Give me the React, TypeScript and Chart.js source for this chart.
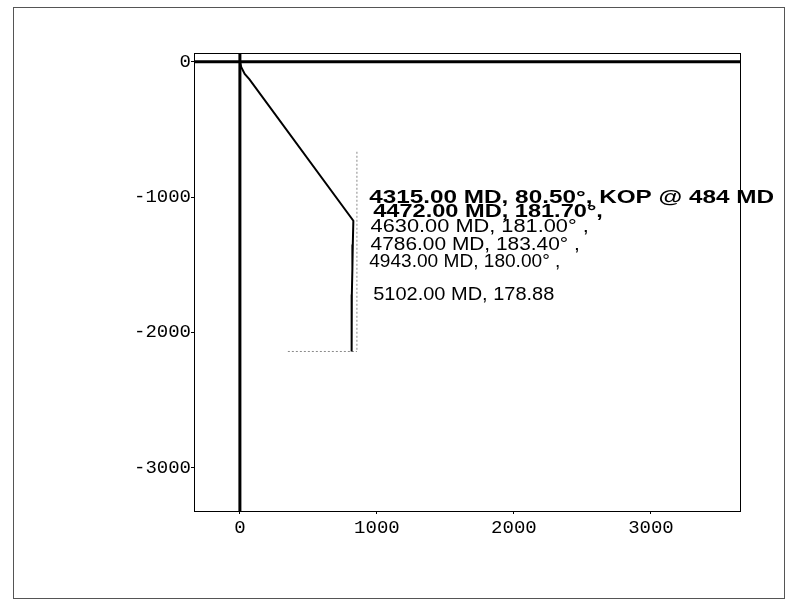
import React, { useEffect, useRef } from "react";
import { Chart, registerables } from "chart.js";

Chart.register(...registerables);

// ---- data ----
const X_MIN = -335;
const X_MAX = 3650;
const Y_MIN = -3320;
const Y_MAX = 65;
const X_TICKS = [0, 1000, 2000, 3000];
const Y_TICKS = [0, -1000, -2000, -3000];

// well path (plan view)
const pathX = [0, 10, 35, 70, 828, 824, 821, 817, 816, 815];
const pathY = [0, -40, -90, -130, -1175, -1350, -1530, -1720, -1920, -2141];

// thin dotted guide lines
const guideVX = [854, 854];
const guideVY = [-665, -2141];
const guideHX = [350, 854];
const guideHY = [-2141, -2141];

// annotation labels and their anchor (data units)
const labelTexts = [
  "4315.00 MD, 80.50°, KOP @ 484 MD",
  "4472.00 MD, 181.70°,",
  "4630.00 MD, 181.00° ,",
  "4786.00 MD, 183.40° ,",
  "4943.00 MD, 180.00° ,",
  "5102.00 MD, 178.88",
];
const labelX = [944, 973, 954, 954, 944, 973];
const labelY = [-1047, -1145, -1256, -1391, -1519, -1761];

// label styles (kept apart from data)
const labelStyles = [
  { weight: "bold", size: 18, sx: 1.35 },
  { weight: "bold", size: 18, sx: 1.31 },
  { weight: "normal", size: 18, sx: 1.21 },
  { weight: "normal", size: 18, sx: 1.16 },
  { weight: "normal", size: 18, sx: 1.06 },
  { weight: "normal", size: 18, sx: 1.11 },
];

const zip = (xs: number[], ys: number[]) => xs.map((x, i) => ({ x, y: ys[i] }));

const framePlugin = {
  id: "framePlugin",
  beforeDraw(chart: any) {
    const ctx = chart.ctx;
    ctx.save();
    ctx.fillStyle = "#fff";
    ctx.fillRect(0, 0, chart.width, chart.height);
    ctx.strokeStyle = "#555";
    ctx.lineWidth = 1;
    ctx.strokeRect(13.5, 7.5, 771, 591);
    ctx.restore();
  },
  afterDatasetsDraw(chart: any) {
    const ctx = chart.ctx;
    const a = chart.chartArea;
    ctx.save();
    ctx.strokeStyle = "#000";
    ctx.lineWidth = 1;
    ctx.strokeRect(a.left + 0.5, a.top + 0.5, a.right - a.left, a.bottom - a.top);
    const xs = chart.scales.x;
    const ys = chart.scales.y;
    ctx.fillStyle = "#000";
    ctx.textBaseline = "alphabetic";
    ctx.textAlign = "left";
    labelTexts.forEach((t, i) => {
      const st = labelStyles[i];
      const px = xs.getPixelForValue(labelX[i]);
      const py = ys.getPixelForValue(labelY[i]);
      ctx.save();
      ctx.translate(px, py);
      ctx.scale(st.sx, 1);
      ctx.font = `${st.weight} ${st.size}px "Liberation Sans", Arial, sans-serif`;
      ctx.fillText(t, 0, 0);
      ctx.restore();
    });
    ctx.restore();
  },
};

export default function App() {
  const ref = useRef<HTMLCanvasElement | null>(null);
  useEffect(() => {
    if (!ref.current) return;
    const chart = new Chart(ref.current, {
      type: "line",
      data: {
        datasets: [
          {
            data: zip([X_MIN, X_MAX], [0, 0]),
            borderColor: "#000",
            borderWidth: 3,
            pointRadius: 0,
          },
          {
            data: zip([0, 0], [Y_MAX, Y_MIN]),
            borderColor: "#000",
            borderWidth: 3,
            pointRadius: 0,
          },
          {
            data: zip(pathX, pathY),
            borderColor: "#000",
            borderWidth: 2,
            pointRadius: 0,
          },
          {
            data: zip(guideVX, guideVY),
            borderColor: "#8a8a8a",
            borderWidth: 1,
            borderDash: [2, 2],
            pointRadius: 0,
          },
          {
            data: zip(guideHX, guideHY),
            borderColor: "#8a8a8a",
            borderWidth: 1,
            borderDash: [2, 2],
            pointRadius: 0,
          },
        ],
      },
      options: {
        animation: false,
        responsive: false,
        maintainAspectRatio: false,
        parsing: false,
        layout: { padding: { left: 134, right: 52, top: 53, bottom: 64 } },
        plugins: {
          legend: { display: false },
          tooltip: { enabled: false },
          title: { display: false },
        },
        scales: {
          x: {
            type: "linear",
            min: X_MIN,
            max: X_MAX,
            afterBuildTicks: (axis: any) => {
              axis.ticks = X_TICKS.map((v) => ({ value: v }));
            },
            afterFit: (axis: any) => {
              axis.height = 30;
            },
            grid: {
              drawOnChartArea: false,
              drawTicks: true,
              tickLength: 3,
              color: "#000",
            },
            border: { display: true, color: "#000", width: 1 },
            ticks: {
              color: "#000",
              padding: 3,
              maxRotation: 0,
              font: { family: "'Liberation Mono', 'Courier New', monospace", size: 19 },
              callback: (v: any) => String(v),
            },
          },
          y: {
            type: "linear",
            min: Y_MIN,
            max: Y_MAX,
            afterBuildTicks: (axis: any) => {
              axis.ticks = Y_TICKS.map((v) => ({ value: v }));
            },
            afterFit: (axis: any) => {
              axis.width = 60;
            },
            grid: {
              drawOnChartArea: false,
              drawTicks: true,
              tickLength: 3,
              color: "#000",
            },
            border: { display: true, color: "#000", width: 1 },
            ticks: {
              color: "#000",
              padding: 0,
              font: { family: "'Liberation Mono', 'Courier New', monospace", size: 19 },
              callback: (v: any) => String(v),
            },
          },
        },
      },
      plugins: [framePlugin],
    } as any);
    return () => chart.destroy();
  }, []);
  return (
    <div style={{ position: "absolute", left: 0, top: 0, width: 792, height: 605, background: "#fff" }}>
      <canvas ref={ref} width={792} height={605} style={{ display: "block", width: 792, height: 605 }} />
    </div>
  );
}
